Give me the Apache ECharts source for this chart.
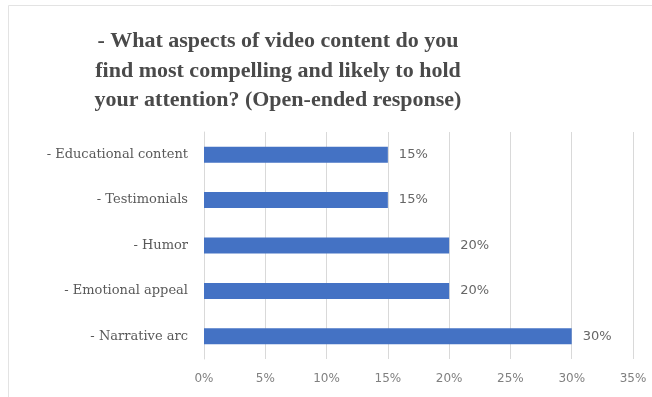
<!DOCTYPE html>
<html>
<head>
<meta charset="utf-8">
<script src="https://cdn.jsdelivr.net/npm/echarts@6/dist/echarts.min.js"></script>
<style>html,body{margin:0;padding:0;background:#fff;}#c{width:652px;height:397px;}</style>
</head>
<body>
<div id="c"></div>
<script>
const titleText = "- What aspects of video content do you\nfind most compelling and likely to hold\nyour attention? (Open-ended response)";
const categories = ["- Narrative arc", "- Emotional appeal", "- Humor", "- Testimonials", "- Educational content"];
const values = [0.30, 0.20, 0.20, 0.15, 0.15];
const xTicks = [0, 0.35, 0.05];

const chart = echarts.init(document.getElementById('c'), null, {renderer: 'canvas'});
chart.setOption({
  animation: false,
  backgroundColor: '#ffffff',
  graphic: [{
    type: 'rect',
    shape: {x: 8.5, y: 5.5, width: 660, height: 400},
    style: {fill: 'none', stroke: '#e3e3e3', lineWidth: 1},
    silent: true
  }],
  title: {
    text: titleText,
    left: 273,
    top: 22,
    textAlign: 'center',
    textStyle: {
      fontFamily: 'Liberation Serif',
      fontWeight: 'bold',
      fontSize: 22,
      lineHeight: 29.5,
      color: '#4a4a4a'
    }
  },
  grid: {left: 204, right: 19, top: 132, bottom: 38, containLabel: false},
  xAxis: {
    type: 'value',
    min: xTicks[0], max: xTicks[1], interval: xTicks[2],
    axisLine: {show: false},
    axisTick: {show: false},
    splitLine: {lineStyle: {color: '#d9d9d9', width: 1}},
    axisLabel: {
      margin: 14,
      color: '#808080',
      fontFamily: 'DejaVu Sans',
      fontSize: 12,
      formatter: v => Math.round(v * 100) + '%'
    }
  },
  yAxis: {
    type: 'category',
    data: categories,
    axisLine: {show: true, lineStyle: {color: '#d9d9d9'}},
    axisTick: {show: false},
    axisLabel: {
      margin: 16,
      color: '#595959',
      fontFamily: 'DejaVu Serif',
      fontSize: 13
    }
  },
  series: [{
    type: 'bar',
    data: values,
    barWidth: 16,
    itemStyle: {color: '#4472C4'},
    label: {
      show: true,
      position: 'right',
      distance: 11,
      color: '#666666',
      fontFamily: 'DejaVu Sans',
      fontSize: 13,
      formatter: p => Math.round(p.value * 100) + '%'
    }
  }]
});
</script>
</body>
</html>
